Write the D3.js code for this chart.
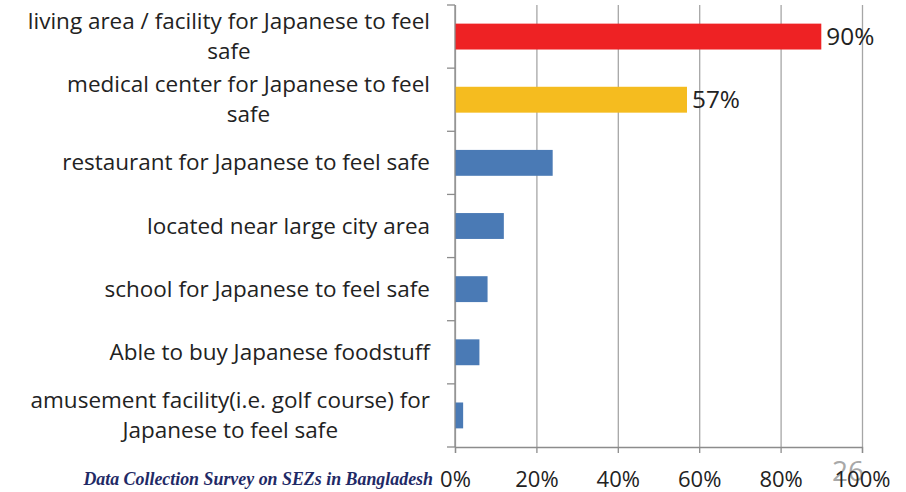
<!DOCTYPE html>
<html>
<head>
<meta charset="utf-8">
<script src="https://cdn.jsdelivr.net/npm/d3@7"></script>
<style>
  body { margin: 0; background: #fff; }
  svg { display: block; }
</style>
</head>
<body>
<svg id="svg" width="906" height="492"></svg>
<script>
// categories, top to bottom (each entry is the wrapped lines of the label)
const categories = [
  ["living area / facility for Japanese to feel", "safe"],
  ["medical center for Japanese to feel", "safe"],
  ["restaurant for Japanese to feel safe"],
  ["located near large city area"],
  ["school for Japanese to feel safe"],
  ["Able to buy Japanese foodstuff"],
  ["amusement facility(i.e. golf course) for", "Japanese to feel safe"]
];
const values = [90, 57, 24, 12, 8, 6, 2];
const barColors = ["#ee2224", "#f5bc1f", "#4a7ab5", "#4a7ab5", "#4a7ab5", "#4a7ab5", "#4a7ab5"];
const shownLabels = ["90%", "57%", "", "", "", "", ""];
const xTicks = [0, 20, 40, 60, 80, 100];
const footer = "Data Collection Survey on SEZs in Bangladesh";
const pageNo = "26";

const svg = d3.select("#svg");
const plotLeft = 455, plotRight = 862, plotTop = 5, plotBottom = 447;
const labelFont = "'Open Sans', Lato, sans-serif";
const serifFont = "'Liberation Serif', 'Times New Roman', serif";

// pick a font size so that a sample text gets the wanted width
function fitSize(txt, wanted, family, weight, style) {
  const t = svg.append("text")
    .attr("font-family", family)
    .attr("font-size", 20)
    .attr("font-weight", weight || "normal")
    .attr("font-style", style || "normal")
    .text(txt);
  const w = t.node().getComputedTextLength();
  t.remove();
  return 20 * wanted / w;
}
const catSize = fitSize("restaurant for Japanese to feel safe", 368, labelFont);
const tickSize = fitSize("100%", 56, labelFont);
const valSize = fitSize("90%", 48, labelFont);
const footSize = fitSize(footer, 350, serifFont, "bold", "italic");

const xScale = d3.scaleLinear().domain([0, 100]).range([plotLeft, plotRight]);
const yScale = d3.scaleBand()
  .domain(d3.range(categories.length))
  .range([plotTop, plotBottom])
  .paddingInner(0.59)
  .paddingOuter(0.295);
const bandStep = (plotBottom - plotTop) / categories.length;

// vertical grid
svg.append("g")
  .attr("transform", `translate(0, ${plotBottom})`)
  .call(d3.axisBottom(xScale).tickValues(xTicks).tickSize(-(plotBottom - plotTop)).tickFormat(""))
  .call(g => g.select(".domain").remove())
  .call(g => g.selectAll("line").attr("stroke", "#a6a6a6").attr("stroke-width", 1.3));

// bars
svg.append("g")
  .selectAll("rect")
  .data(values)
  .enter()
  .append("rect")
  .attr("x", xScale(0))
  .attr("y", (d, i) => yScale(i))
  .attr("width", d => xScale(d) - xScale(0))
  .attr("height", yScale.bandwidth())
  .attr("fill", (d, i) => barColors[i]);

// value labels
svg.append("g")
  .selectAll("text")
  .data(values)
  .enter()
  .append("text")
  .attr("x", d => xScale(d) + 5)
  .attr("y", (d, i) => yScale(i) + yScale.bandwidth() / 2)
  .attr("dy", "0.36em")
  .attr("font-family", labelFont)
  .attr("font-size", valSize)
  .attr("fill", "#222")
  .text((d, i) => shownLabels[i]);

// page number (sits behind the 100% label, as on the slide)
svg.append("text")
  .attr("x", 848)
  .attr("y", 481)
  .attr("text-anchor", "middle")
  .attr("font-family", labelFont)
  .attr("font-size", 28)
  .attr("fill", "#a8a8a8")
  .text(pageNo);

// x axis
const xAxis = svg.append("g")
  .attr("transform", `translate(0, ${plotBottom})`)
  .call(d3.axisBottom(xScale).tickValues(xTicks).tickSize(6).tickPadding(18).tickFormat(d => d + "%"));
xAxis.select(".domain").attr("stroke", "#8c8c8c").attr("stroke-width", 1.3);
xAxis.selectAll("line").attr("stroke", "#8c8c8c").attr("stroke-width", 1.3);
xAxis.selectAll("text")
  .attr("font-family", labelFont)
  .attr("font-size", tickSize)
  .attr("fill", "#222");

// y axis line with tick marks between categories
const yAxis = svg.append("g");
yAxis.append("line")
  .attr("x1", plotLeft).attr("x2", plotLeft)
  .attr("y1", plotTop).attr("y2", plotBottom)
  .attr("stroke", "#8c8c8c").attr("stroke-width", 1.3);
yAxis.selectAll(".tk")
  .data(d3.range(categories.length + 1))
  .enter()
  .append("line")
  .attr("x1", plotLeft - 8).attr("x2", plotLeft)
  .attr("y1", i => plotTop + i * bandStep).attr("y2", i => plotTop + i * bandStep)
  .attr("stroke", "#8c8c8c").attr("stroke-width", 1.3);

// category labels
const lineH = 30;
const labels = svg.append("g")
  .selectAll("text")
  .data(categories)
  .enter()
  .append("text")
  .attr("font-family", labelFont)
  .attr("font-size", catSize)
  .attr("fill", "#222")
  .attr("text-anchor", "middle");

labels.each(function (lines, i) {
  const t = d3.select(this);
  const cy = yScale(i) + yScale.bandwidth() / 2 - 0.5;
  const startY = cy - (lines.length - 1) * lineH / 2;
  lines.forEach((ln, j) => {
    t.append("tspan").attr("y", startY + j * lineH).attr("dy", "0.36em").text(ln);
  });
  // right-align the block, center lines within it
  const w = d3.max(t.selectAll("tspan").nodes(), n => n.getComputedTextLength());
  t.selectAll("tspan").attr("x", 430 - w / 2);
});

// footer
svg.append("text")
  .attr("x", 433)
  .attr("y", 485)
  .attr("text-anchor", "end")
  .attr("font-family", serifFont)
  .attr("font-weight", "bold")
  .attr("font-style", "italic")
  .attr("font-size", footSize)
  .attr("fill", "#1f2a66")
  .text(footer);
</script>
</body>
</html>
